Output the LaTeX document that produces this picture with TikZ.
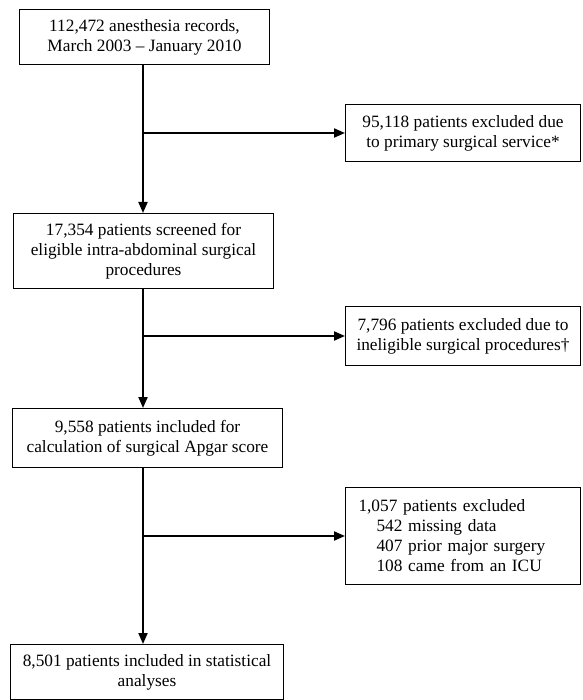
\documentclass[tikz,border=0pt]{standalone}
\usepackage{fontspec}
\setmainfont{Liberation Serif}
\usetikzlibrary{arrows.meta}
\begin{document}
\begin{tikzpicture}[x=1pt,y=1pt,
  flowbox/.style={draw=black, line width=1pt, rectangle, inner sep=0pt, align=center,
    font=\fontsize{17.3}{20}\selectfont},
  flowarrow/.style={line width=2pt, -{Triangle[length=11pt,width=9pt]}}]
\useasboundingbox (0,0) rectangle (582,-700);
\fill[white] (0,0) rectangle (582,-700);
\node[flowbox, minimum width=250pt, minimum height=55pt] (b1) at (144.5,-37)
  {112,472 anesthesia records,\\March 2003 – January 2010};
\node[flowbox, minimum width=235pt, minimum height=57pt] (b2) at (463,-133)
  {95,118 patients excluded due\\to primary surgical service*};
\node[flowbox, minimum width=260pt, minimum height=75pt] (b3) at (143.5,-251)
  {17,354 patients screened for\\eligible intra-abdominal surgical\\procedures};
\node[flowbox, minimum width=235pt, minimum height=59pt] (b4) at (463,-336)
  {7,796 patients excluded due to\\ineligible surgical procedures†};
\node[flowbox, minimum width=270pt, minimum height=59pt] (b5) at (147.5,-438)
  {9,558 patients included for\\calculation of surgical Apgar score};
\node[flowbox, align=left, text width=209pt, inner xsep=13pt, minimum height=97pt] (b6) at (463,-536)
  {1,057 patients excluded\\\hspace*{18pt}542 missing data\\\hspace*{18pt}407 prior major surgery\\\hspace*{18pt}108 came from an ICU};
\node[flowbox, minimum width=273pt, minimum height=55pt] (b7) at (147,-672)
  {8,501 patients included in statistical\\analyses};
\coordinate (col) at (143,0);
\coordinate (j1) at (143,-133);
\coordinate (j2) at (143,-336);
\coordinate (j3) at (143,-536);
\draw[flowarrow] (b1.south -| col) -- (b3.north -| col);
\draw[flowarrow] (b3.south -| col) -- (b5.north -| col);
\draw[flowarrow] (b5.south -| col) -- (b7.north -| col);
\draw[flowarrow] (j1) -- (b2.west);
\draw[flowarrow] (j2) -- (b4.west);
\draw[flowarrow] (j3) -- (b6.west);
\end{tikzpicture}
\end{document}
